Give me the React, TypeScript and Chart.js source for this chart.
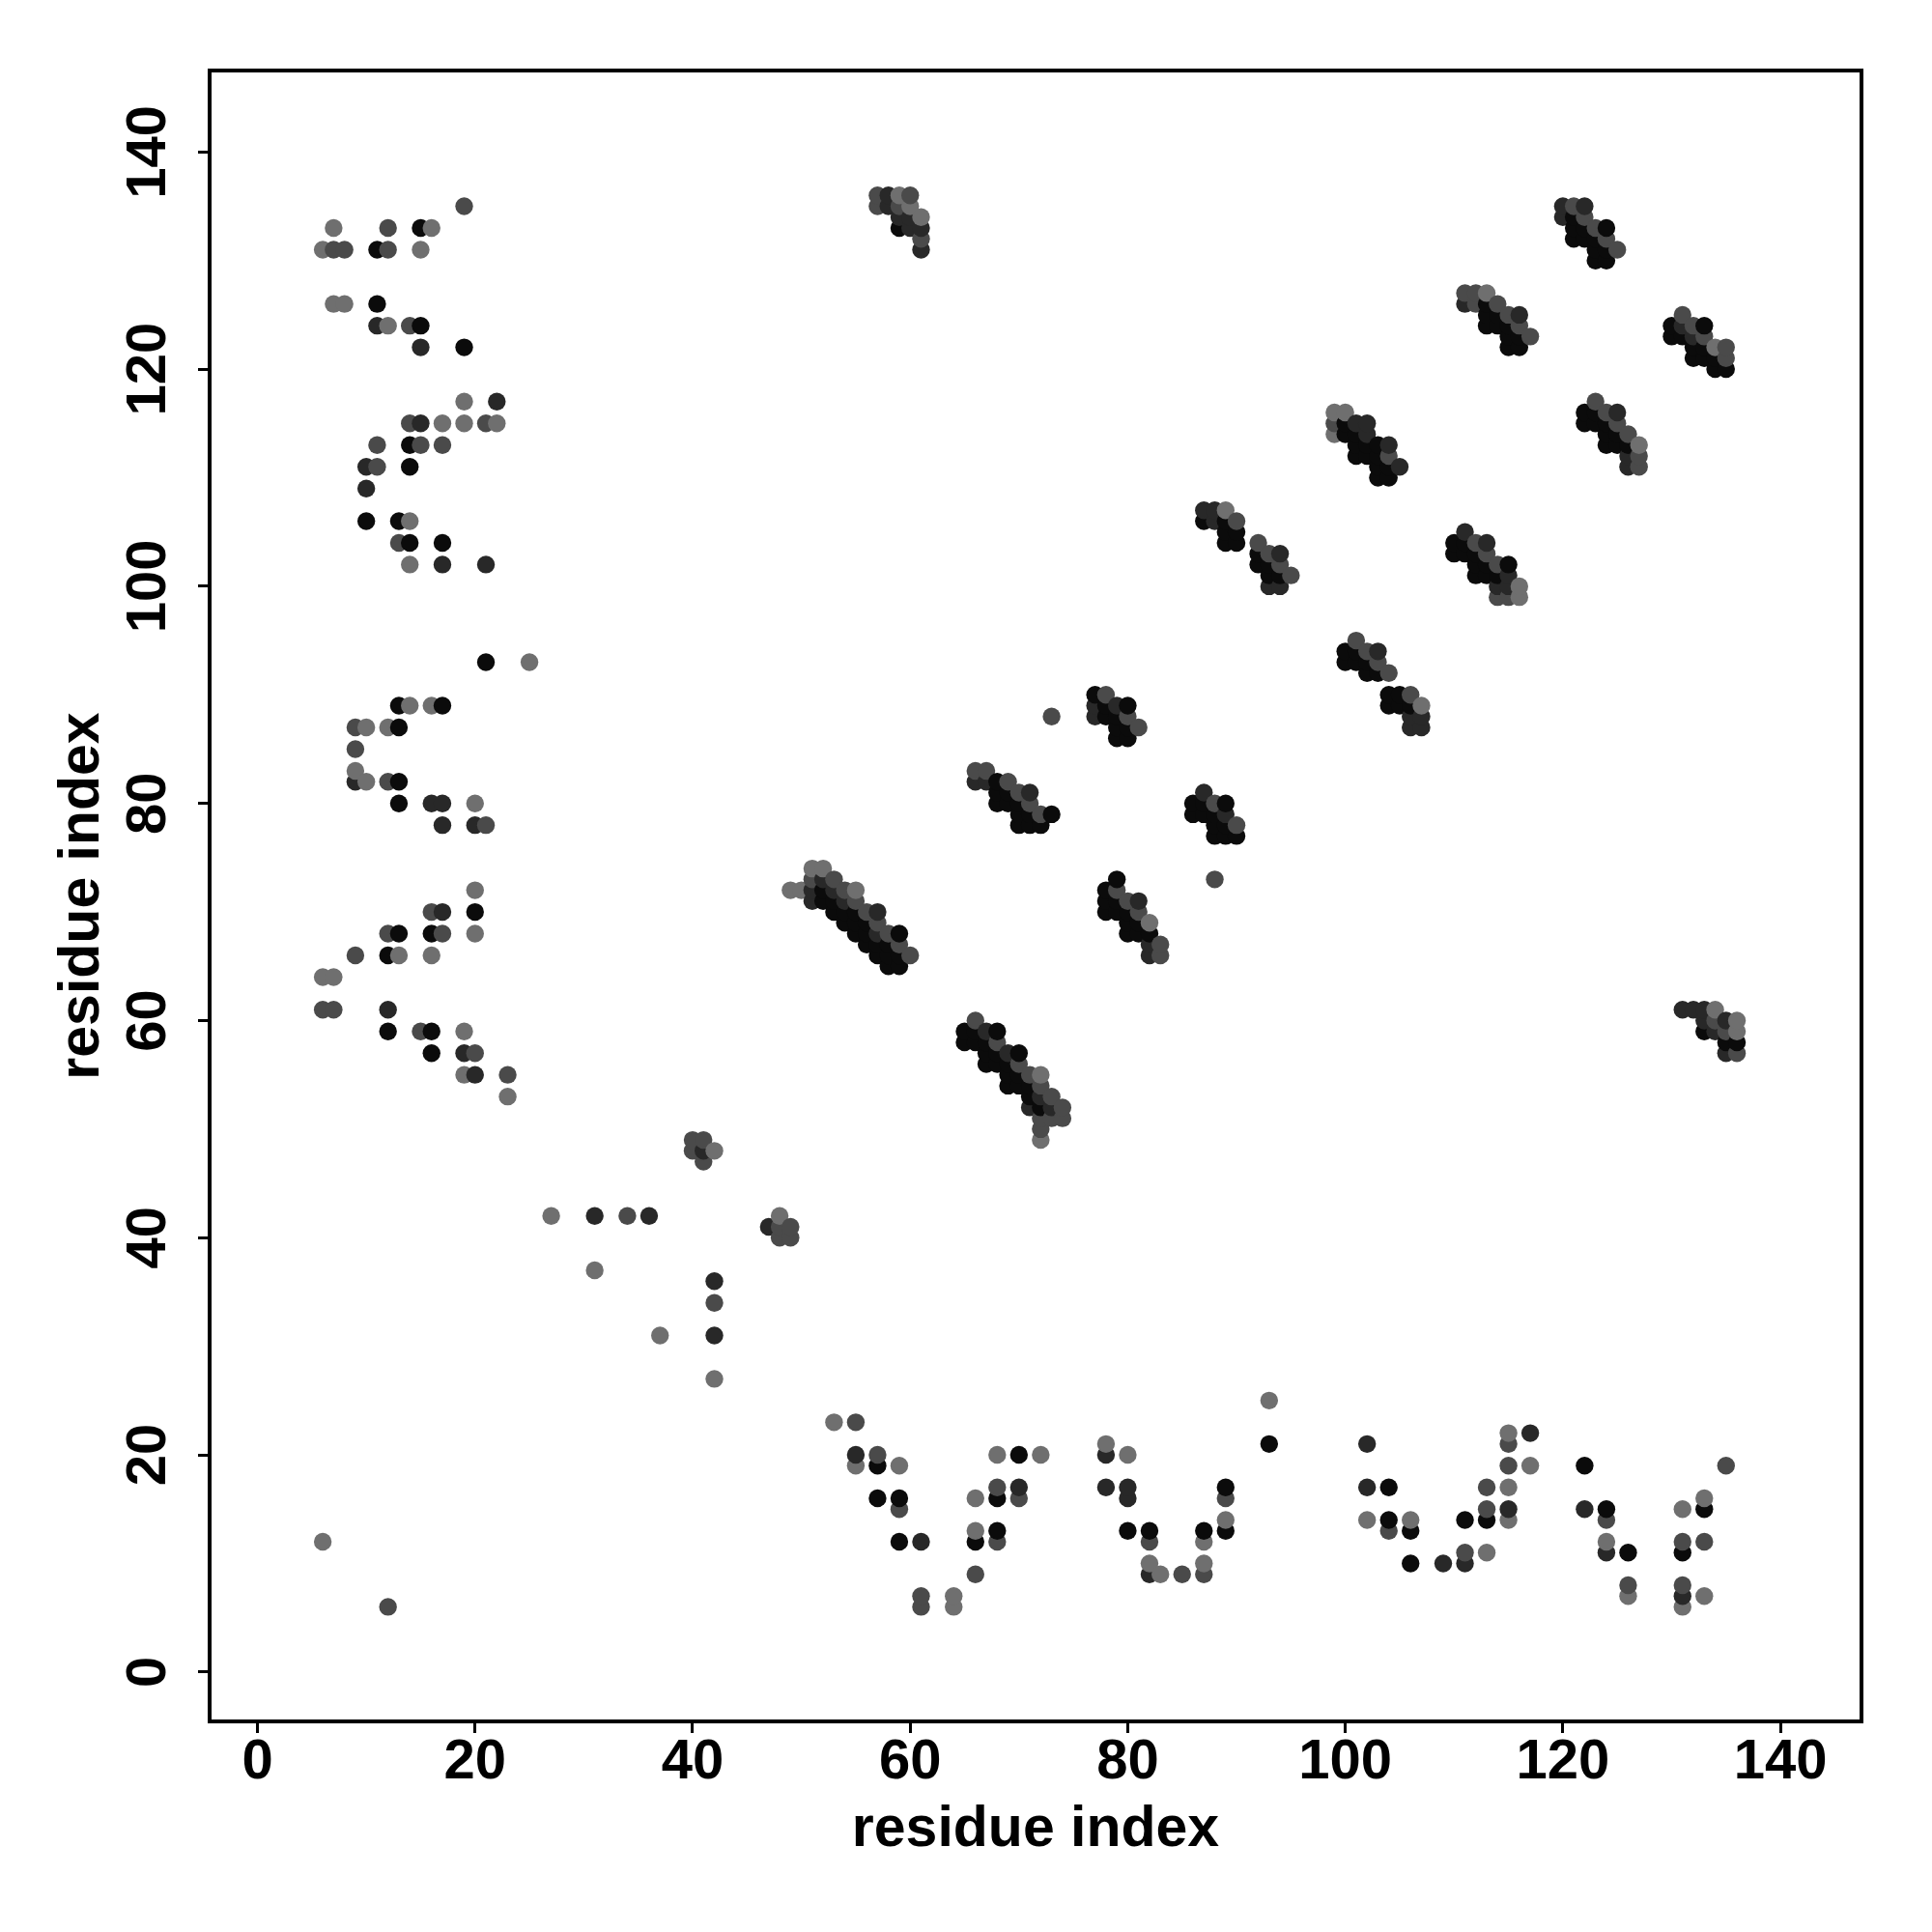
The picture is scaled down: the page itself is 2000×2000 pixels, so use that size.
import React, { useEffect, useRef } from "react";
import { Chart, registerables } from "chart.js";

Chart.register(...registerables);

const X_TICKS = [0, 20, 40, 60, 80, 100, 120, 140];
const Y_TICKS = [0, 20, 40, 60, 80, 100, 120, 140];
const X_TITLE = "residue index";
const Y_TITLE = "residue index";

// contacts (residue i, residue j), grouped by grey level
const CONTACTS_BLACK: [number, number][] = [
  [15,133],[11,131],[11,126],[15,124],[19,122],[14,113],[14,111],[10,106],[13,106],[14,104],[17,104],
  [21,93],[13,89],[17,89],[13,87],[13,82],[13,80],[20,70],[13,68],[16,68],[12,66],[12,59],[16,59],[16,57],
  [57,19],[70,20],[57,16],[59,16],[68,16],[89,17],[59,12],[68,13],[66,12],[80,13],[82,13],[87,13],[89,13],[93,21],
  [104,17],[104,14],[106,13],[106,10],[111,14],[113,14],[122,19],[124,15],[126,11],[133,15],[131,11],
  [52,72],[52,71],[53,71],[53,70],[54,70],[55,70],[54,69],[55,69],[56,69],[55,68],[56,68],[59,68],[56,67],[57,67],[58,67],[57,66],[58,66],[59,66],[58,65],[59,65],
  [65,59],[66,59],[68,59],[65,58],[66,58],[67,58],[67,57],[68,57],[70,57],[67,56],[68,56],[69,56],[69,55],[70,55],[69,54],[70,54],[71,54],[71,53],[72,52],
  [133,59],[135,58],[136,58],
  [59,133],
  [68,82],[68,81],[69,81],[68,80],[69,80],[70,80],[70,79],[71,79],[73,79],[70,78],[71,78],[72,78],
  [77,90],[78,89],[80,89],[78,88],[79,88],[79,87],[80,87],[79,86],[80,86],
  [86,80],[87,80],[89,80],[86,79],[87,79],[88,79],[88,78],[89,78],[88,77],[89,77],[90,77],
  [79,73],[78,72],[78,71],[79,71],[78,70],[79,70],[80,70],[80,69],[81,69],[80,68],[81,68],[82,68],
  [87,106],[89,106],[89,105],[90,105],[89,104],[90,104],
  [92,103],[92,102],[93,102],[93,101],[94,101],
  [100,94],[101,94],[100,93],[101,93],[102,93],[102,92],[103,92],[104,90],[105,90],[104,89],[105,89],[106,89],
  [100,115],[100,114],[101,114],[101,113],[102,113],[103,113],[101,112],[102,112],[103,112],[103,111],[104,111],[103,110],[104,110],
  [113,126],[113,125],[114,125],[113,124],[114,124],[115,124],[115,123],[116,123],[115,122],[116,122],
  [122,116],[123,116],[122,115],[123,115],[124,115],[124,114],[125,114],[124,113],[125,113],[126,113],
  [110,104],[111,104],[110,103],[111,103],[112,103],[112,102],[113,102],[115,102],[112,101],[113,101],[114,101],
  [121,134],[121,133],[122,133],[124,133],[121,132],[122,132],[123,132],[123,131],[124,131],[123,130],[124,130],
  [130,124],[133,124],[130,123],[131,123],[132,122],[133,122],[132,121],[133,121],[134,121],[134,120],[135,120],
];

const CONTACTS_DARK: [number, number][] = [
  [11,124],[15,122],[22,117],[15,115],[10,111],[10,109],[17,102],[21,102],
  [9,82],[16,80],[17,80],[17,78],[20,78],[17,70],[12,61],[19,57],[20,55],
  [41,48],[31,42],[36,42],[47,41],[42,36],[42,31],
  [55,20],[70,17],[78,20],[78,17],[80,17],[80,16],[61,12],[82,9],
  [102,21],[102,17],[109,10],[111,10],[115,15],[117,22],[122,15],[124,11],[131,7],
  [52,73],[51,72],[53,72],[51,71],[54,71],[57,70],[57,68],
  [67,59],[69,57],[72,53],[71,52],[73,52],
  [131,61],[132,61],[133,61],[133,60],[135,60],[134,59],[135,57],
  [58,136],[58,135],[59,134],[60,134],[60,133],[61,133],[61,131],
  [66,82],[67,82],[71,81],[77,89],[79,89],[77,88],[87,81],[89,79],[81,71],[82,67],[82,66],
  [87,107],[88,107],[88,106],[94,103],[93,100],[94,100],[103,94],[106,88],[107,88],[106,87],[107,87],
  [101,115],[102,115],[102,114],[104,113],[105,111],
  [111,126],[116,125],[125,116],[126,112],[126,111],[111,105],[113,104],[115,101],[114,100],[115,100],
  [120,135],[122,135],[120,134],[131,124],[132,123],
];

const CONTACTS_MID: [number, number][] = [
  [19,135],[12,133],[7,131],[8,131],[12,131],[14,124],[14,115],[21,115],[11,113],[15,113],[17,113],[11,111],[13,104],
  [9,87],[9,85],[12,82],[21,78],[16,70],[12,68],[17,68],[9,66],[6,61],[7,61],[15,59],[20,57],[23,55],[12,6],
  [40,49],[41,49],[40,48],[41,47],[34,42],[48,41],[49,41],[48,40],[49,40],[42,34],
  [55,23],[57,20],[59,15],[68,17],[70,16],[89,16],[68,12],[66,9],[61,7],[61,6],[82,12],[85,9],[87,9],
  [104,13],[111,11],[113,15],[113,17],[115,19],[115,21],[124,14],[126,8],[131,12],[133,12],[131,8],[135,19],
  [51,73],[53,73],[54,72],[55,71],[56,70],[57,69],[58,68],[59,67],[60,66],
  [66,60],[68,58],[70,56],[71,55],[72,54],[73,53],[74,52],[72,51],[73,51],[74,51],[72,50],
  [134,60],[135,59],[136,57],
  [57,136],[60,136],[57,135],[59,135],[61,132],
  [66,83],[67,83],[69,82],[70,81],[71,80],[72,79],[78,90],[80,88],[81,87],[73,88],[88,80],[90,78],[88,73],[79,72],[80,71],[81,70],[83,67],[83,66],
  [90,106],[92,104],[93,103],[94,102],[95,101],[101,95],[102,94],[103,93],[104,92],[106,90],
  [99,115],[104,112],
  [111,127],[112,127],[112,126],[114,126],[115,125],[116,124],[117,123],[123,117],[124,116],[125,115],[126,114],[127,112],[127,111],[112,104],[113,103],[114,102],[114,99],[115,99],
  [121,135],[122,134],[123,133],[124,132],[125,131],[131,125],[132,124],[133,123],[135,122],[135,121],
];

const CONTACTS_LIGHT: [number, number][] = [
  [7,133],[16,133],[6,131],[15,131],[7,126],[8,126],[12,124],[19,117],[17,115],[19,115],[22,115],[14,106],[14,102],
  [25,93],[14,89],[16,89],[10,87],[12,87],[9,83],[10,82],[20,80],[20,72],[20,68],[13,66],[16,66],[6,64],[7,64],[19,59],[19,55],[23,53],[6,12],
  [42,48],[27,42],[48,42],[31,37],[37,31],[42,27],
  [53,23],[55,19],[59,19],[68,20],[72,20],[78,21],[80,20],[66,16],[66,13],[64,7],[64,6],[82,10],[83,9],[87,12],[87,10],[89,14],[93,25],
  [102,14],[106,14],[113,11],[115,14],[115,17],[117,19],[115,22],[124,12],[126,7],[131,15],[133,16],[131,6],[133,7],
  [51,74],[52,74],[49,72],[50,72],[55,72],
  [72,55],[72,49],
  [134,61],[136,60],[136,59],
  [59,136],[60,135],[61,134],
  [82,69],
  [89,107],[107,89],
  [99,116],[100,116],[99,114],
  [113,127],[127,113],[116,100],[116,99],
  [134,122],
];

const SHADES = {
  black: "#0b0b0b",
  dark: "#282828",
  mid: "#4a4a4a",
  light: "#6f6f6f",
};

const FONT = '"Liberation Sans", Arial, Helvetica, sans-serif';

const framePlugin = {
  id: "rframe",
  afterDraw(chart: any) {
    const { ctx, chartArea } = chart;
    const { left, right, top, bottom } = chartArea;
    const xs = chart.scales.x;
    const ys = chart.scales.y;
    ctx.save();
    ctx.strokeStyle = "#000";
    ctx.lineWidth = 4;
    ctx.strokeRect(left, top, right - left, bottom - top);

    ctx.fillStyle = "#000";
    ctx.font = `bold 58px ${FONT}`;
    ctx.textAlign = "center";
    ctx.textBaseline = "alphabetic";
    X_TICKS.forEach((v) => {
      ctx.fillText(String(v), xs.getPixelForValue(v), bottom + 59);
    });
    Y_TICKS.forEach((v) => {
      ctx.save();
      ctx.translate(left - 46, ys.getPixelForValue(v));
      ctx.rotate(-Math.PI / 2);
      ctx.fillText(String(v), 0, 0);
      ctx.restore();
    });

    ctx.font = `bold 59px ${FONT}`;
    ctx.fillText(X_TITLE, (left + right) / 2, bottom + 129);
    ctx.save();
    ctx.translate(left - 115, (top + bottom) / 2);
    ctx.rotate(-Math.PI / 2);
    ctx.fillText(Y_TITLE, 0, 0);
    ctx.restore();
    ctx.restore();
  },
};

export default function App() {
  const ref = useRef<HTMLCanvasElement>(null);

  useEffect(() => {
    document.body.style.margin = "0";
    const groups: [[number, number][], string][] = [
      [CONTACTS_LIGHT, SHADES.light],
      [CONTACTS_MID, SHADES.mid],
      [CONTACTS_DARK, SHADES.dark],
      [CONTACTS_BLACK, SHADES.black],
    ];
    const pts: { x: number; y: number; c: string }[] = [];
    groups.forEach(([arr, c]) => arr.forEach(([x, y]) => pts.push({ x, y, c })));
    pts.sort((a, b) => a.x - b.x || a.y - b.y);

    const tickGrid = {
      display: true,
      drawOnChartArea: false,
      drawTicks: true,
      tickLength: 12,
      color: "#000",
      lineWidth: 3,
    };

    const chart = new Chart(ref.current as HTMLCanvasElement, {
      type: "scatter",
      data: {
        datasets: [
          {
            data: pts.map((p) => ({ x: p.x, y: p.y })),
            pointBackgroundColor: pts.map((p) => p.c),
            pointBorderWidth: 0,
            pointBorderColor: "rgba(0,0,0,0)",
            pointRadius: 9.2,
            pointHoverRadius: 9.2,
          },
        ],
      },
      options: {
        responsive: false,
        animation: false,
        devicePixelRatio: 1,
        events: [],
        layout: { padding: { top: 73, right: 73, left: 0, bottom: 0 }, autoPadding: false },
        plugins: { legend: { display: false }, tooltip: { enabled: false } },
        scales: {
          x: {
            type: "linear",
            min: -4.4,
            max: 147.45,
            afterBuildTicks: (s: any) => {
              s.ticks = X_TICKS.map((v) => ({ value: v }));
            },
            afterFit: (s: any) => {
              s.height = 218;
            },
            ticks: { display: false },
            grid: tickGrid,
            border: { display: false },
          },
          y: {
            type: "linear",
            min: -4.55,
            max: 147.5,
            afterBuildTicks: (s: any) => {
              s.ticks = Y_TICKS.map((v) => ({ value: v }));
            },
            afterFit: (s: any) => {
              s.width = 217;
            },
            ticks: { display: false },
            grid: tickGrid,
            border: { display: false },
          },
        },
      } as any,
      plugins: [framePlugin],
    });
    return () => chart.destroy();
  }, []);

  return (
    <div style={{ position: "absolute", left: 0, top: 0, width: 2000, height: 2000, background: "#fff" }}>
      <canvas ref={ref} width={2000} height={2000} style={{ width: 2000, height: 2000, display: "block" }} />
    </div>
  );
}
